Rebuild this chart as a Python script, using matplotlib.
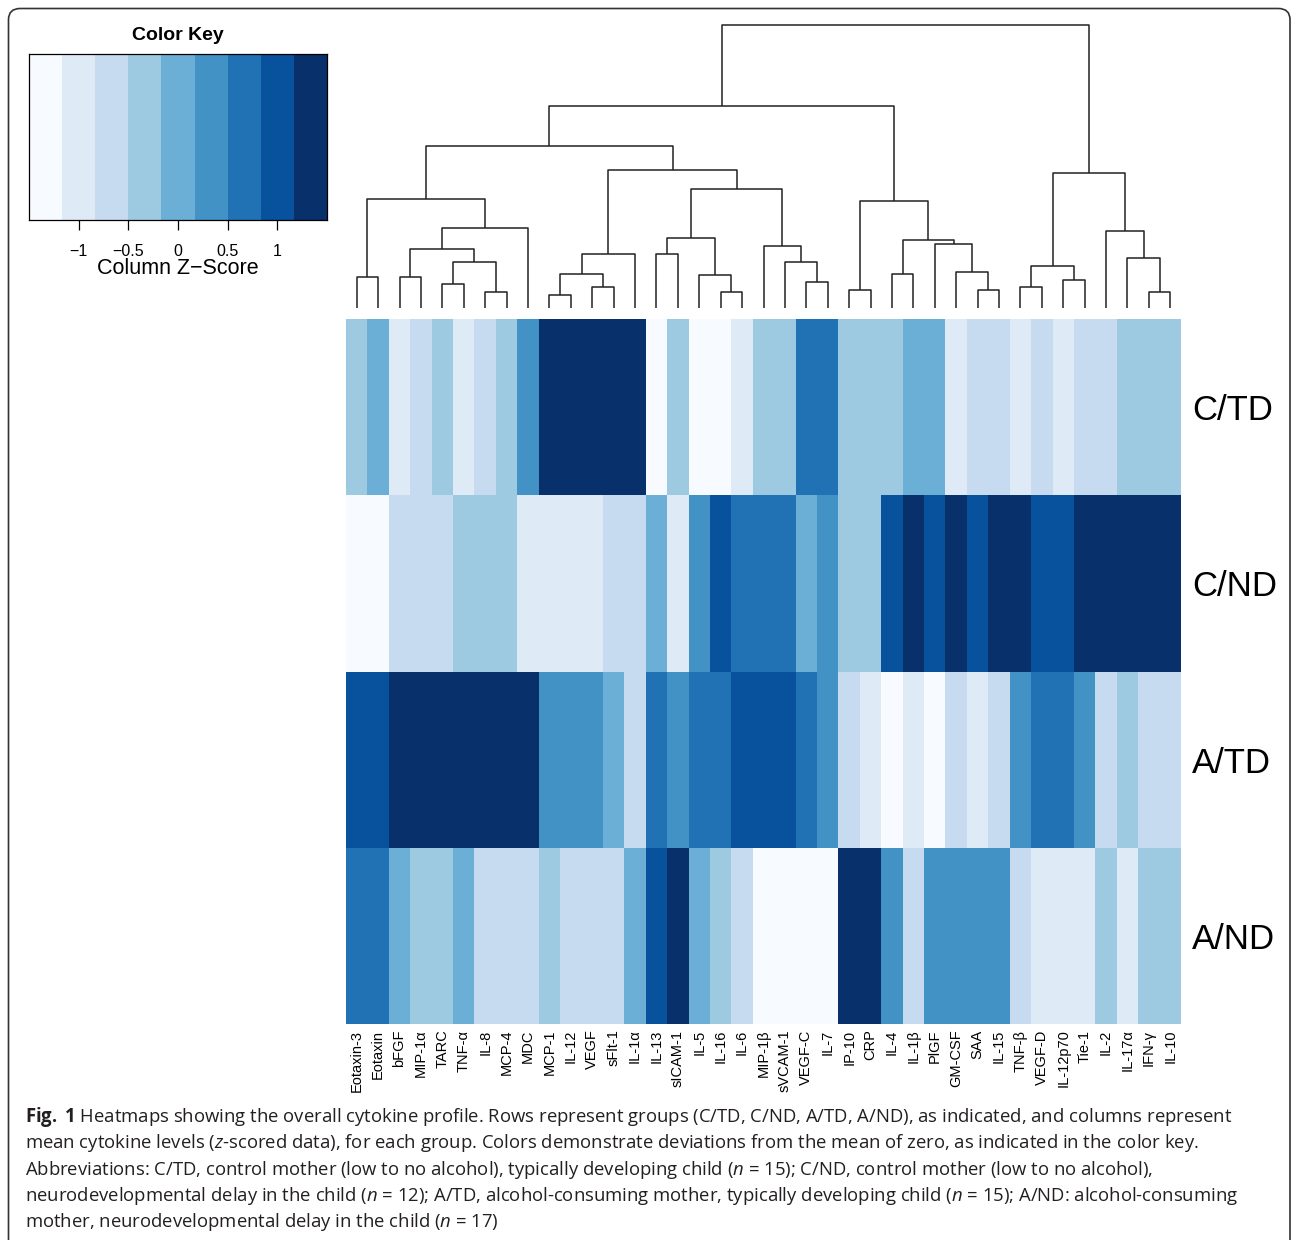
import matplotlib
matplotlib.use("Agg")
import matplotlib.pyplot as plt
import numpy as np
from matplotlib.colors import BoundaryNorm, ListedColormap
from matplotlib.patches import FancyBboxPatch

# columns (cytokines) in dendrogram order
cytokines = ["Eotaxin-3", "Eotaxin", "bFGF", "MIP-1α", "TARC", "TNF-α", "IL-8", "MCP-4",
             "MDC", "MCP-1", "IL-12", "VEGF", "sFlt-1", "IL-1α", "IL-13", "sICAM-1",
             "IL-5", "IL-16", "IL-6", "MIP-1β", "sVCAM-1", "VEGF-C", "IL-7", "IP-10",
             "CRP", "IL-4", "IL-1β", "PlGF", "GM-CSF", "SAA", "IL-15", "TNF-β",
             "VEGF-D", "IL-12p70", "Tie-1", "IL-2", "IL-17α", "IFN-γ", "IL-10"]
groups = ["C/TD", "C/ND", "A/TD", "A/ND"]

# column z-scores per group
z_ctd = [-0.35, 0.10, -1.02, -0.70, -0.30, -0.98, -0.62, -0.28, 0.30, 1.38,
         1.42, 1.40, 1.36, 1.30, -1.25, -0.40, -1.22, -1.35, -1.05, -0.30,
         -0.32, 0.62, 0.70, -0.35, -0.30, -0.45, -0.05, 0.02, -1.05, -0.72,
         -0.78, -0.95, -0.64, -1.00, -0.60, -0.68, -0.40, -0.35, -0.38]
z_cnd = [-1.30, -1.35, -0.60, -0.65, -0.70, -0.30, -0.38, -0.25, -1.00, -1.05,
         -0.95, -1.02, -0.70, -0.68, 0.08, -0.92, 0.35, 1.02, 0.66, 0.70,
         0.64, 0.00, 0.30, -0.33, -0.28, 1.05, 1.32, 0.95, 1.35, 1.08,
         1.28, 1.40, 0.98, 1.02, 1.35, 1.38, 1.42, 1.33, 1.30]
z_atd = [1.02, 0.90, 1.32, 1.35, 1.30, 1.38, 1.36, 1.28, 1.35, 0.36,
         0.30, 0.33, 0.02, -0.62, 0.68, 0.35, 0.64, 0.70, 1.00, 0.98,
         1.04, 0.68, 0.36, -0.66, -0.96, -1.28, -0.92, -1.30, -0.66, -1.00,
         -0.62, 0.32, 0.72, 0.66, 0.30, -0.70, -0.36, -0.64, -0.60]
z_and = [0.66, 0.60, 0.05, -0.30, -0.35, -0.02, -0.68, -0.72, -0.64, -0.30,
         -0.70, -0.66, -0.68, 0.00, 1.02, 1.32, 0.04, -0.36, -0.62, -1.36,
         -1.38, -1.30, -1.34, 1.40, 1.42, 0.30, -0.62, 0.34, 0.36, 0.30,
         0.32, -0.66, -1.02, -0.98, -1.04, -0.32, -0.98, -0.30, -0.32]

# column dendrogram: merge k creates node len(cytokines) + k
merge_left = [0, 2, 4, 6, 41, 40, 44, 39, 9, 11, 47, 49, 14, 17, 16, 51, 21, 20, 19,
              54, 50, 46, 23, 25, 29, 28, 27, 62, 61, 60, 31, 33, 69, 37, 36, 35, 71, 68]
merge_right = [1, 3, 5, 7, 42, 43, 8, 45, 10, 12, 48, 13, 15, 18, 52, 53, 22, 55, 56,
               57, 58, 59, 24, 26, 30, 63, 64, 65, 66, 67, 32, 34, 70, 38, 72, 73, 74, 75]
merge_height = [30.7, 30.7, 24.3, 15.7, 46.0, 58.7, 79.7, 109.0, 13.0, 20.7, 34.3, 54.0,
                54.3, 16.3, 33.0, 70.3, 25.7, 45.7, 62.3, 119.0, 138.0, 162.0, 18.3, 34.3,
                17.7, 36.3, 64.3, 68.3, 107.0, 202.3, 21.0, 27.7, 42.3, 15.7, 49.7, 76.7,
                135.3, 282.7]

key_breaks = np.linspace(-1.5, 1.5, 10)
key_ticks = [-1, -0.5, 0, 0.5, 1]
blues9 = ["#F7FBFF", "#DEEBF7", "#C6DBEF", "#9ECAE1", "#6BAED6",
          "#4292C6", "#2171B5", "#08519C", "#08306B"]

caption_lines = [
    r"$\mathbf{Fig.}$ $\mathbf{1}$ Heatmaps showing the overall cytokine profile. Rows represent groups "
    r"(C/TD, C/ND, A/TD, A/ND), as indicated, and columns represent",
    r"mean cytokine levels ($\mathit{z}$-scored data), for each group. Colors demonstrate "
    r"deviations from the mean of zero, as indicated in the color key.",
    r"Abbreviations: C/TD, control mother (low to no alcohol), typically developing child "
    r"($\mathit{n}$ = 15); C/ND, control mother (low to no alcohol),",
    r"neurodevelopmental delay in the child ($\mathit{n}$ = 12); A/TD, alcohol-consuming mother, "
    r"typically developing child ($\mathit{n}$ = 15); A/ND: alcohol-consuming",
    r"mother, neurodevelopmental delay in the child ($\mathit{n}$ = 17)",
]

plt.rcParams["font.family"] = ["Liberation Sans", "DejaVu Sans"]
plt.rcParams["mathtext.fontset"] = "custom"
plt.rcParams["mathtext.rm"] = "Open Sans"
plt.rcParams["mathtext.it"] = "Open Sans:italic"
plt.rcParams["mathtext.bf"] = "Open Sans:bold"

W, H = 1295, 1240
fig = plt.figure(figsize=(W / 100, H / 100), dpi=100)


def px_rect(x0, y0, x1, y1):
    return [x0 / W, 1 - y1 / H, (x1 - x0) / W, (y1 - y0) / H]


cmap = ListedColormap(blues9)
norm = BoundaryNorm(key_breaks, cmap.N)

# frame around the figure panel
frame = FancyBboxPatch((8.5 / W, -0.02), (1290 - 8.5) / W, 1 - 8.5 / H + 0.02,
                       boxstyle="round,pad=0,rounding_size=0.009",
                       transform=fig.transFigure, fill=False,
                       edgecolor="#333333", linewidth=1.2)
fig.patches.append(frame)

# heatmap
data = np.array([z_ctd, z_cnd, z_atd, z_and])
ax = fig.add_axes(px_rect(346, 319, 1181, 1024))
ax.pcolormesh(np.arange(len(cytokines) + 1), np.arange(len(groups) + 1), data,
              cmap=cmap, norm=norm)
ax.set_xlim(0, len(cytokines))
ax.set_ylim(len(groups), 0)
for s in ax.spines.values():
    s.set_visible(False)
ax.set_xticks(np.arange(len(cytokines)) + 0.5)
ax.set_xticklabels(cytokines, rotation=90, fontsize=10.5, va="top", ha="center")
ax.tick_params(axis="x", length=0, pad=4)
ax.set_yticks(np.arange(len(groups)) + 0.5)
ax.set_yticklabels(groups, fontsize=25)
ax.yaxis.tick_right()
ax.tick_params(axis="y", length=0, pad=8)

# column dendrogram
axd = fig.add_axes(px_rect(346, 25.3, 1181, 308))
n = len(cytokines)
node_x = {i: i + 0.5 for i in range(n)}
node_h = {i: 0.0 for i in range(n)}
for k, (a, b, h) in enumerate(zip(merge_left, merge_right, merge_height)):
    xa, xb = node_x[a], node_x[b]
    axd.plot([xa, xa, xb, xb], [node_h[a], h, h, node_h[b]],
             color="#222222", lw=1.1, clip_on=False, solid_capstyle="butt")
    node_x[n + k] = (xa + xb) / 2
    node_h[n + k] = h
axd.set_xlim(0, n)
axd.set_ylim(0, max(merge_height))
axd.axis("off")

# color key
axk = fig.add_axes(px_rect(29.3, 53.5, 326.7, 220))
centers = (key_breaks[:-1] + key_breaks[1:]) / 2
axk.pcolormesh(key_breaks, [0, 1], centers[np.newaxis, :], cmap=cmap, norm=norm)
axk.set_xlim(key_breaks[0], key_breaks[-1])
axk.set_ylim(0, 1)
axk.set_yticks([])
axk.set_xticks(key_ticks)
axk.set_xticklabels([f"{t:g}".replace("-", "\u2212") for t in key_ticks], fontsize=11.5)
axk.tick_params(axis="x", length=7, width=0.9, pad=10, direction="out")
for s in axk.spines.values():
    s.set_linewidth(0.9)
fig.text(177.5 / W, 1 - 36 / H, "Color Key", fontsize=14, fontweight="bold",
         ha="center", va="center")
fig.text(177.5 / W, 1 - 269 / H, "Column Z\u2212Score", fontsize=15.5,
         ha="center", va="center")

# caption, sized so the first line spans the panel width
cap_fs = 11.5
texts = []
for i, line in enumerate(caption_lines):
    t = fig.text(25 / W, 1 - (1117 + 26.3 * i) / H, line, fontsize=cap_fs,
                 family=["Open Sans", "DejaVu Sans"], ha="left", va="center",
                 color="#231F20")
    texts.append(t)
renderer = fig.canvas.get_renderer()
w1 = texts[0].get_window_extent(renderer).width
scale = (1237 - 25) / w1
for t in texts:
    t.set_fontsize(cap_fs * scale)

fig.savefig("out.png", dpi=100)
